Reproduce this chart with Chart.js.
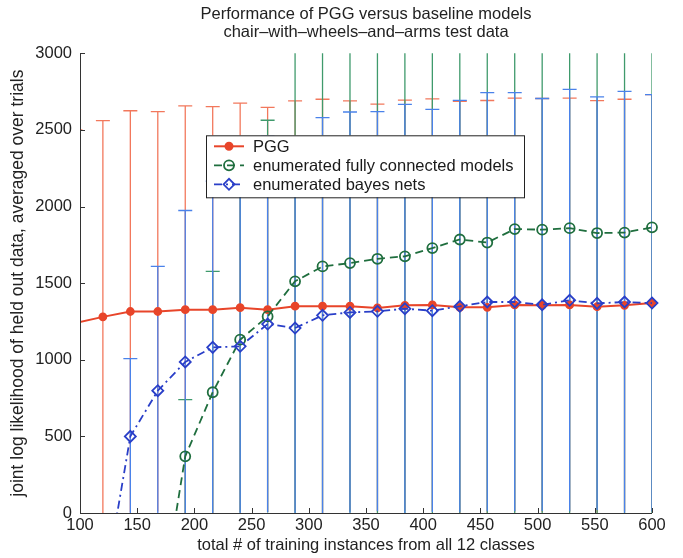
<!DOCTYPE html>
<html>
<head>
<meta charset="utf-8">
<script src="https://cdn.jsdelivr.net/npm/chart.js@4.4.1/dist/chart.umd.min.js"></script>
<style>
body { margin: 0; background: #fff; }
</style>
</head>
<body>
<canvas id="myChart" width="683" height="558"></canvas>
<script>
// x positions (training set size); PGG has one extra point left of the axis
const xPGG = [96, 120, 144, 168, 192, 216, 240, 264, 288, 312, 336, 360, 384, 408, 432, 456, 480, 504, 528, 552, 576, 600];
const xBayes = [120, 144, 168, 192, 216, 240, 264, 288, 312, 336, 360, 384, 408, 432, 456, 480, 504, 528, 552, 576, 600];
const xFully = [168, 192, 216, 240, 264, 288, 312, 336, 360, 384, 408, 432, 456, 480, 504, 528, 552, 576, 600];

const pgg = [1240, 1280, 1315, 1315, 1327, 1327, 1340, 1327, 1350, 1350, 1350, 1338, 1355, 1358, 1342, 1342, 1358, 1355, 1358, 1346, 1355, 1370];
const pggErr = [1260, 1280, 1310, 1305, 1330, 1325, 1335, 1320, 1340, 1350, 1340, 1330, 1340, 1345, 1345, 1350, 1350, 1350, 1350, 1345, 1345, 1360];

const fully = [-740, 370, 788, 1131, 1283, 1512, 1609, 1631, 1659, 1675, 1729, 1785, 1765, 1853, 1849, 1859, 1827, 1830, 1864];
const fullyErr = [null, 370, 789, 1130, 1280, 1515, 1610, 1630, 1660, 1675, 1730, 1785, 1765, 1855, 1850, 1860, 1830, 1830, 1865];

const bayes = [-550, 500, 798, 986, 1081, 1088, 1233, 1207, 1290, 1309, 1316, 1333, 1320, 1349, 1377, 1377, 1359, 1388, 1368, 1377, 1370];
const bayesErr = [null, 507, 811, 988, 1085, 1090, 1228, 1210, 1290, 1308, 1303, 1334, 1314, 1344, 1366, 1366, 1346, 1377, 1348, 1375, 1360];

const seriesNames = ['PGG', 'enumerated fully connected models', 'enumerated bayes nets'];
const xTicks = [100, 150, 200, 250, 300, 350, 400, 450, 500, 550, 600];
const yTicks = [0, 500, 1000, 1500, 2000, 2500, 3000];

const lineColors = ['#e8452a', '#1f6e3e', '#2a3fc8'];
const barColors = ['#f2785c', '#3f9a6c', '#4a82ea'];
const fontFam = '"Liberation Sans", Arial, sans-serif';

function pts(xs, ys) {
    return xs.map((x, i) => ({ x: x, y: ys[i] }));
}

// error bars: red first, then green, blue on top
const errSets = [
    { xs: xPGG, mean: pgg, err: pggErr, color: barColors[0] },
    { xs: xFully, mean: fully, err: fullyErr, color: barColors[1] },
    { xs: xBayes, mean: bayes, err: bayesErr, color: barColors[2] }
];

const errorBars = {
    id: 'errorBars',
    beforeDatasetsDraw(chart) {
        const { ctx, chartArea, scales } = chart;
        ctx.save();
        ctx.beginPath();
        ctx.rect(chartArea.left, chartArea.top, chartArea.right - chartArea.left, chartArea.bottom - chartArea.top);
        ctx.clip();
        ctx.lineWidth = 1.3;
        errSets.forEach(s => {
            ctx.strokeStyle = s.color;
            s.xs.forEach((xv, i) => {
                const e = s.err[i];
                if (e == null) return;
                const px = scales.x.getPixelForValue(xv);
                const y1 = scales.y.getPixelForValue(s.mean[i] + e);
                const y2 = scales.y.getPixelForValue(s.mean[i] - e);
                ctx.beginPath();
                ctx.moveTo(px, y1); ctx.lineTo(px, y2);
                // lower caps sit on / under the x axis, only the upper one shows
                ctx.moveTo(px - 7, y1); ctx.lineTo(px + 7, y1);
                ctx.stroke();
            });
        });
        ctx.restore();
    }
};

// matlab style axes: left + bottom lines with inward ticks
const axesLines = {
    id: 'axesLines',
    afterDatasetsDraw(chart) {
        const { ctx, chartArea, scales } = chart;
        ctx.save();
        ctx.strokeStyle = '#333';
        ctx.lineWidth = 1;
        ctx.beginPath();
        ctx.moveTo(chartArea.left + 0.5, chartArea.top);
        ctx.lineTo(chartArea.left + 0.5, chartArea.bottom + 0.5);
        ctx.lineTo(chartArea.right, chartArea.bottom + 0.5);
        xTicks.forEach(v => {
            const px = Math.round(scales.x.getPixelForValue(v)) + 0.5;
            ctx.moveTo(px, chartArea.bottom);
            ctx.lineTo(px, chartArea.bottom - 5);
        });
        yTicks.forEach(v => {
            const py = Math.round(scales.y.getPixelForValue(v)) + 0.5;
            ctx.moveTo(chartArea.left, py);
            ctx.lineTo(chartArea.left + 5, py);
        });
        ctx.stroke();
        ctx.restore();
    }
};

const styles = [
    { dash: [], pointStyle: 'circle', radius: 3.5, fill: lineColors[0] },
    { dash: [8, 5], pointStyle: 'circle', radius: 5, fill: 'rgba(0,0,0,0)' },
    { dash: [8, 4, 2, 4], pointStyle: 'rectRot', radius: 5.5, fill: 'rgba(0,0,0,0)' }
];

const boxLegend = {
    id: 'boxLegend',
    afterDraw(chart) {
        const { ctx, chartArea } = chart;
        const left = chartArea.left + 126, top = chartArea.top + 82;
        const w = 318, h = 62;
        ctx.save();
        ctx.fillStyle = '#fff';
        ctx.fillRect(left, top, w, h);
        ctx.strokeStyle = '#222';
        ctx.lineWidth = 1;
        ctx.strokeRect(left + 0.5, top + 0.5, w, h);
        ctx.font = '16.5px ' + fontFam;
        ctx.textBaseline = 'middle';
        seriesNames.forEach((name, i) => {
            const cy = top + 11 + i * 19;
            const st = styles[i];
            ctx.strokeStyle = lineColors[i];
            ctx.lineWidth = i === 0 ? 2 : 1.8;
            ctx.setLineDash(st.dash);
            ctx.beginPath();
            ctx.moveTo(left + 8, cy);
            ctx.lineTo(left + 38, cy);
            ctx.stroke();
            ctx.setLineDash([]);
            ctx.fillStyle = st.fill;
            Chart.helpers.drawPoint(ctx, { pointStyle: st.pointStyle, radius: st.radius, borderWidth: 1.8, rotation: 0 }, left + 23, cy);
            ctx.fillStyle = '#1a1a1a';
            ctx.fillText(name, left + 47, cy + 1);
        });
        ctx.restore();
    }
};

const datasets = [
    { label: seriesNames[2], data: pts(xBayes, bayes) },
    { label: seriesNames[1], data: pts(xFully, fully) },
    { label: seriesNames[0], data: pts(xPGG, pgg) }
].map((d, k) => {
    const i = 2 - k;
    const st = styles[i];
    return Object.assign(d, {
        showLine: true,
        borderColor: lineColors[i],
        backgroundColor: st.fill,
        borderWidth: i === 0 ? 2 : 1.8,
        borderDash: st.dash,
        pointStyle: st.pointStyle,
        pointRadius: st.radius,
        pointBorderWidth: 1.8,
        pointBorderColor: lineColors[i],
        pointBackgroundColor: st.fill,
        tension: 0,
        clip: { left: 0, top: 0, right: 8, bottom: 0 }
    });
});

const config = {
    type: 'scatter',
    data: { datasets },
    options: {
        responsive: false,
        animation: false,
        layout: { padding: { left: 0, right: 31, top: 0, bottom: 0 } },
        plugins: {
            legend: { display: false },
            tooltip: { enabled: false },
            title: {
                display: true,
                fullSize: false,
                text: ['Performance of PGG versus baseline models', 'chair\u2013with\u2013wheels\u2013and\u2013arms test data'],
                color: '#222',
                font: { family: fontFam, size: 16.5, weight: 'normal', lineHeight: 1.1 },
                padding: { top: 5, bottom: 12 }
            }
        },
        scales: {
            x: {
                type: 'linear',
                min: 100, max: 600,
                afterFit: s => { s.height = 45; },
                afterBuildTicks: s => { s.ticks = xTicks.map(v => ({ value: v })); },
                grid: { display: false, drawTicks: false },
                border: { display: false },
                ticks: { color: '#222', padding: 3, maxRotation: 0, callback: v => String(v), font: { family: fontFam, size: 16.5 } },
                title: {
                    display: true,
                    text: 'total # of training instances from all 12 classes',
                    color: '#222',
                    padding: { top: 0, bottom: 3 },
                    font: { family: fontFam, size: 16.5 }
                }
            },
            y: {
                min: 0, max: 3000,
                afterFit: s => { s.width = 80; },
                afterBuildTicks: s => { s.ticks = yTicks.map(v => ({ value: v })); },
                grid: { display: false, drawTicks: false },
                border: { display: false },
                ticks: { color: '#222', padding: 8, callback: v => String(v), font: { family: fontFam, size: 16.5 } },
                title: {
                    display: true,
                    text: 'joint log likelihood of held out data, averaged over trials',
                    color: '#222',
                    padding: { top: 8, bottom: 0 },
                    font: { family: fontFam, size: 17.5 }
                }
            }
        }
    },
    plugins: [errorBars, axesLines, boxLegend]
};

new Chart(document.getElementById('myChart'), config);
</script>
</body>
</html>
